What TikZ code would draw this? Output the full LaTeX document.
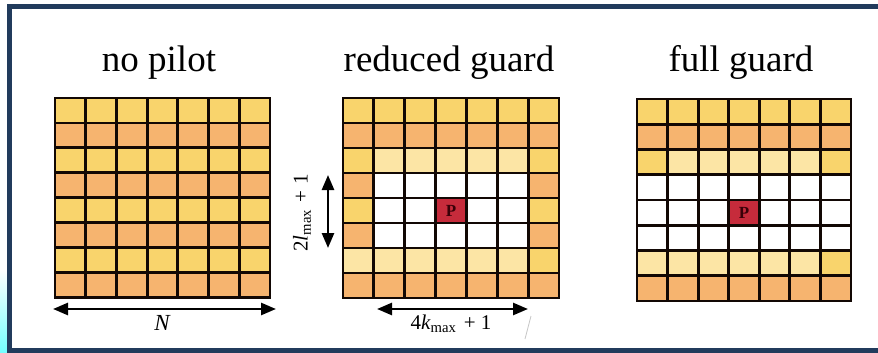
\documentclass[tikz,border=0pt]{standalone}
\usepackage{fontspec}
\setmainfont{Liberation Serif}
\usetikzlibrary{arrows.meta}
\definecolor{frameblue}{HTML}{213B5C}
\definecolor{cY}{HTML}{F9D46C}
\definecolor{cO}{HTML}{F6B46F}
\definecolor{cP}{HTML}{FCE5A5}
\definecolor{cW}{HTML}{FFFFFF}
\definecolor{cR}{HTML}{C62B3B}
\definecolor{ptext}{HTML}{3A0008}
\definecolor{gridline}{HTML}{120804}
\newcommand\mygrid[5]{%
  \foreach \rowcols [count=\r] in {#5} {
    \foreach \cc [count=\k] in \rowcols {
      \fill[fill=c\cc] ({#1+(\k-1)*#3},{#2+(\r-1)*#4}) rectangle ++(#3,#4);
    }
  }
  \foreach \k in {1,...,6} \draw[gridstroke] ({#1+\k*#3},#2) -- ++(0,{8*#4});
  \foreach \r in {1,...,7} \draw[gridstroke] (#1,{#2+\r*#4}) -- ++({7*#3},0);
  \draw[gridstroke] (#1,#2) rectangle ++({7*#3},{8*#4});
}
\begin{document}
\begin{tikzpicture}[x=1pt,y=-1pt,
  gridstroke/.style={draw=gridline,line width=2.8pt,line join=miter},
  title/.style={anchor=base,font=\fontsize{37}{40}\selectfont},
  dimlabel/.style={font=\fontsize{21}{24}\selectfont},
  dimarrow/.style={line width=2.6pt,{Triangle[length=15pt,width=12pt]}-{Triangle[length=15pt,width=12pt]}},
  pcell/.style={minimum width=30pt,minimum height=24pt,inner sep=0pt,font=\fontsize{17}{17}\selectfont\bfseries,text=ptext}]
\useasboundingbox (0,0) rectangle (878,353);
\fill[white] (0,0) rectangle (878,353);
% frame
\shade[top color=white, bottom color=cyan!55!white] (0,270) rectangle (7,353);
\fill[frameblue] (7,4) rectangle (878,9);
\fill[frameblue] (7,4) rectangle (12,353);
\fill[frameblue] (7,348) rectangle (878,353);
% titles
\node[title] (t1) at (159,72) {no pilot};
\node[title] (t2) at (449,72) {reduced guard};
\node[title] (t3) at (741,72) {full guard};
% grid 1
\mygrid{55}{98}{30.7}{24.9}{{Y,Y,Y,Y,Y,Y,Y},{O,O,O,O,O,O,O},{Y,Y,Y,Y,Y,Y,Y},{O,O,O,O,O,O,O},{Y,Y,Y,Y,Y,Y,Y},{O,O,O,O,O,O,O},{Y,Y,Y,Y,Y,Y,Y},{O,O,O,O,O,O,O}}
% grid 2
\mygrid{343}{98}{30.86}{25}{{Y,Y,Y,Y,Y,Y,Y},{O,O,O,O,O,O,O},{Y,P,P,P,P,P,Y},{O,W,W,W,W,W,O},{Y,W,W,R,W,W,Y},{O,W,W,W,W,W,O},{P,P,P,P,P,P,Y},{O,O,O,O,O,O,O}}
\node[pcell] (p2) at (451,210.5) {P};
% grid 3
\mygrid{637}{99}{30.57}{25.25}{{Y,Y,Y,Y,Y,Y,Y},{O,O,O,O,O,O,O},{Y,P,P,P,P,P,Y},{W,W,W,W,W,W,W},{W,W,W,R,W,W,W},{W,W,W,W,W,W,W},{P,P,P,P,P,P,Y},{O,O,O,O,O,O,O}}
\node[pcell] (p3) at (744,212.6) {P};
% dimension arrows
\coordinate (nL) at (53,309);
\coordinate (nR) at (276,309);
\draw[dimarrow] (nL) -- (nR);
\node[dimlabel,font=\fontsize{23}{26}\selectfont\itshape] (nlab) at (162,323) {N};
\coordinate (vT) at (328,175);
\coordinate (vB) at (328,248);
\draw[dimarrow] (vT) -- (vB);
\node[dimlabel,rotate=90] (llab) at (302,213) {2\textit{l}\textsubscript{max}\hspace{0.35em}+\hspace{0.25em}1};
\coordinate (hL) at (377,309);
\coordinate (hR) at (528,309);
\draw[dimarrow] (hL) -- (hR);
\node[dimlabel] (klab) at (451,324) {4\textit{k}\textsubscript{max}\hspace{0.35em}+\hspace{0.25em}1};
% faint slash
\coordinate (sA) at (531,316);
\coordinate (sB) at (525,339);
\draw[gray!45,line width=0.8pt] (sA) -- (sB);
\end{tikzpicture}
\end{document}
